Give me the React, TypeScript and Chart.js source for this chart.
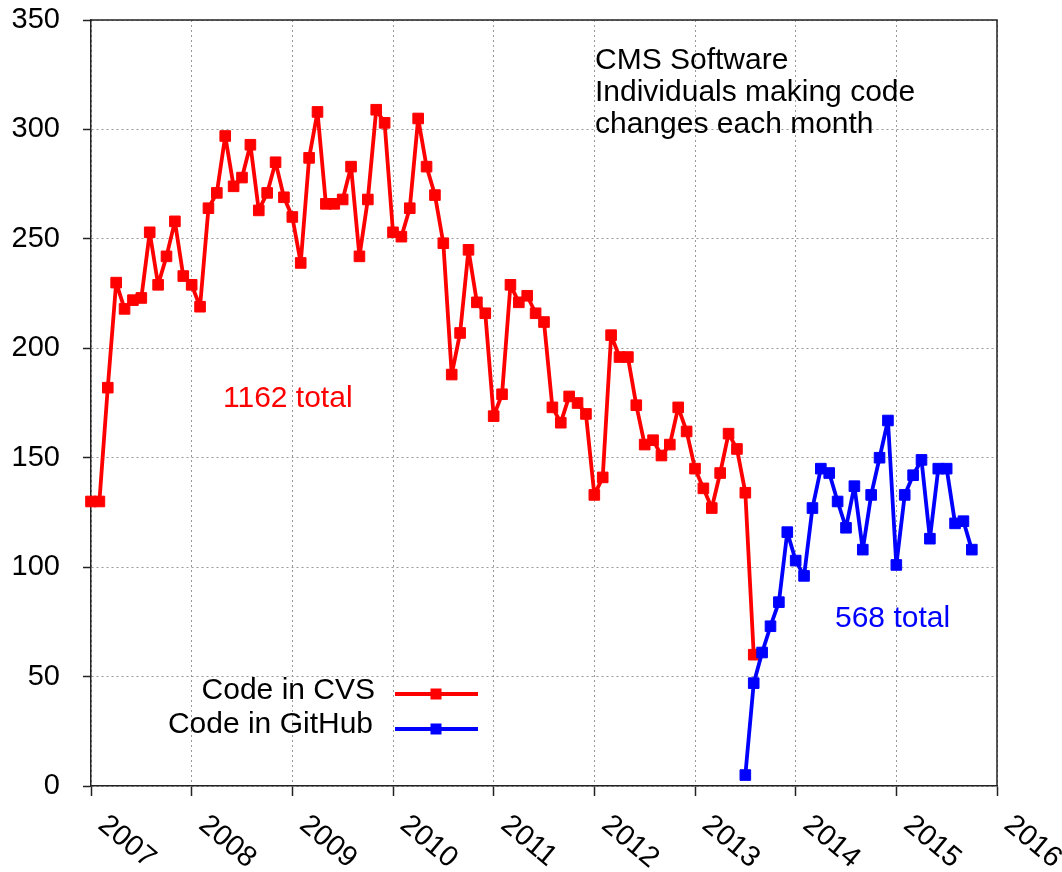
import React, { useEffect, useRef } from 'react';
import { Chart, registerables } from 'chart.js';

Chart.register(...registerables);

// ---- data ----
const yearTicks = [2007, 2008, 2009, 2010, 2011, 2012, 2013, 2014, 2015, 2016];
const cvsStartYear = 2007; // January 2007
const cvsValues = [
  130, 130, 182, 230, 218, 222, 223, 253, 229, 242, 258, 233,
  229, 219, 264, 271, 297, 274, 278, 293, 263, 271, 285, 269,
  260, 239, 287, 308, 266, 266, 268, 283, 242, 268, 309, 303,
  253, 251, 264, 305, 283, 270, 248, 188, 207, 245, 221, 216,
  169, 179, 229, 221, 224, 216, 212, 173, 166, 178, 175, 170,
  133, 141, 206, 196, 196, 174, 156, 158, 151, 156, 173, 162,
  145, 136, 127, 143, 161, 154, 134, 60,
];
const githubStartYear = 2013.5; // July 2013
const githubValues = [
  5, 47, 61, 73, 84, 116,
  103, 96, 127, 145, 143, 130, 118, 137, 108, 133, 150, 167,
  101, 133, 142, 149, 113, 145, 145, 120, 121, 108,
];
const seriesLabels = ['Code in CVS', 'Code in GitHub'];
const titleLines = ['CMS Software', 'Individuals making code', 'changes each month'];
const totalLabels = ['1162 total', '568 total'];

const RED = '#ff0000';
const BLUE = '#0000ff';
const FONT_FAMILY = '"Liberation Sans", Arial, Helvetica, sans-serif';
const FONT = `30px ${FONT_FAMILY}`;
const TICK_FONT = `29px ${FONT_FAMILY}`;

const toPoints = (start: number, values: number[]) =>
  values.map((v, i) => ({ x: start + i / 12, y: v }));

const decorPlugin = {
  id: 'decor',
  beforeDatasetsDraw(chart: any) {
    const { ctx, chartArea } = chart;
    ctx.save();
    ctx.strokeStyle = '#222';
    ctx.lineWidth = 1.5;
    ctx.beginPath();
    ctx.moveTo(chartArea.left, chartArea.top);
    ctx.lineTo(chartArea.right, chartArea.top);
    ctx.lineTo(chartArea.right, chartArea.bottom);
    ctx.stroke();
    ctx.restore();
  },
  afterDraw(chart: any) {
    const { ctx, scales } = chart;
    const xs = scales.x;
    ctx.save();
    ctx.fillStyle = '#000';
    // rotated x labels (clockwise)
    ctx.font = TICK_FONT;
    yearTicks.forEach((yr) => {
      const px = xs.getPixelForValue(yr);
      ctx.save();
      ctx.translate(px + 11, 821);
      ctx.rotate((40 * Math.PI) / 180);
      ctx.textAlign = 'left';
      ctx.textBaseline = 'middle';
      ctx.fillText(String(yr), 0, 0);
      ctx.restore();
    });
    ctx.font = FONT;
    // title text
    ctx.textAlign = 'left';
    ctx.textBaseline = 'alphabetic';
    titleLines.forEach((t, i) => ctx.fillText(t, 595, 69 + i * 32));
    // totals
    ctx.fillStyle = RED;
    ctx.fillText(totalLabels[0], 223, 407);
    ctx.fillStyle = BLUE;
    ctx.fillText(totalLabels[1], 835, 627);
    // legend
    const ds = chart.data.datasets;
    const rows = [
      { y: 699, ly: 694, tx: 375 },
      { y: 733, ly: 729, tx: 373 },
    ];
    rows.forEach((r, i) => {
      const color = ds[i].borderColor;
      ctx.fillStyle = '#000';
      ctx.textAlign = 'right';
      ctx.fillText(ds[i].label, r.tx, r.y);
      ctx.strokeStyle = color;
      ctx.lineWidth = 4;
      ctx.beginPath();
      ctx.moveTo(395, r.ly);
      ctx.lineTo(478, r.ly);
      ctx.stroke();
      ctx.fillStyle = color;
      ctx.fillRect(436 - 5.5, r.ly - 5.5, 11, 11);
    });
    ctx.restore();
  },
};

const lineStyle = (color: string) => ({
  borderColor: color,
  backgroundColor: color,
  borderWidth: 3.8,
  borderJoinStyle: 'round' as const,
  pointStyle: 'rect' as const,
  pointRadius: 7.5,
  pointBorderWidth: 1,
  pointBackgroundColor: color,
  pointBorderColor: color,
  tension: 0,
  clip: false as any,
});

export default function App() {
  const ref = useRef<HTMLCanvasElement | null>(null);

  useEffect(() => {
    if (!ref.current) return;
    const chart = new Chart(ref.current, {
      type: 'line',
      data: {
        datasets: [
          {
            label: seriesLabels[0],
            data: toPoints(cvsStartYear, cvsValues),
            ...lineStyle(RED),
            order: 1,
          },
          {
            label: seriesLabels[1],
            data: toPoints(githubStartYear, githubValues),
            ...lineStyle(BLUE),
            order: 0,
          },
        ],
      },
      options: {
        animation: false,
        responsive: false,
        devicePixelRatio: 1,
        layout: { padding: { top: 20, right: 65, left: 0, bottom: 0 } },
        plugins: {
          legend: { display: false },
          tooltip: { enabled: false },
          title: { display: false },
        },
        scales: {
          x: {
            type: 'linear',
            min: 2007,
            max: 2016,
            ticks: { display: false, stepSize: 1 },
            grid: {
              color: '#999',
              lineWidth: 1,
              drawTicks: true,
              tickLength: 10,
              tickColor: '#222',
              tickWidth: 1.5,
            },
            border: { display: true, color: '#222', width: 1.5, dash: [2, 3] },
            afterFit: (scale: any) => {
              scale.height = 86;
              scale.paddingLeft = 0;
              scale.paddingRight = 0;
            },
          },
          y: {
            type: 'linear',
            min: 0,
            max: 350,
            ticks: {
              stepSize: 50,
              color: '#000',
              padding: 23,
              font: { family: FONT_FAMILY, size: 29 },
            },
            grid: {
              color: '#999',
              lineWidth: 1,
              drawTicks: true,
              tickLength: 8,
              tickColor: '#222',
              tickWidth: 1.5,
            },
            border: { display: true, color: '#222', width: 1.5, dash: [2, 3] },
            afterFit: (scale: any) => {
              scale.width = 91;
              scale.paddingTop = 0;
              scale.paddingBottom = 0;
            },
          },
        },
      },
      plugins: [decorPlugin],
    });
    return () => chart.destroy();
  }, []);

  return (
    <div style={{ position: 'fixed', left: 0, top: 0, width: 1062, height: 872, background: '#fff' }}>
      <canvas ref={ref} width={1062} height={872} style={{ display: 'block' }} />
    </div>
  );
}
